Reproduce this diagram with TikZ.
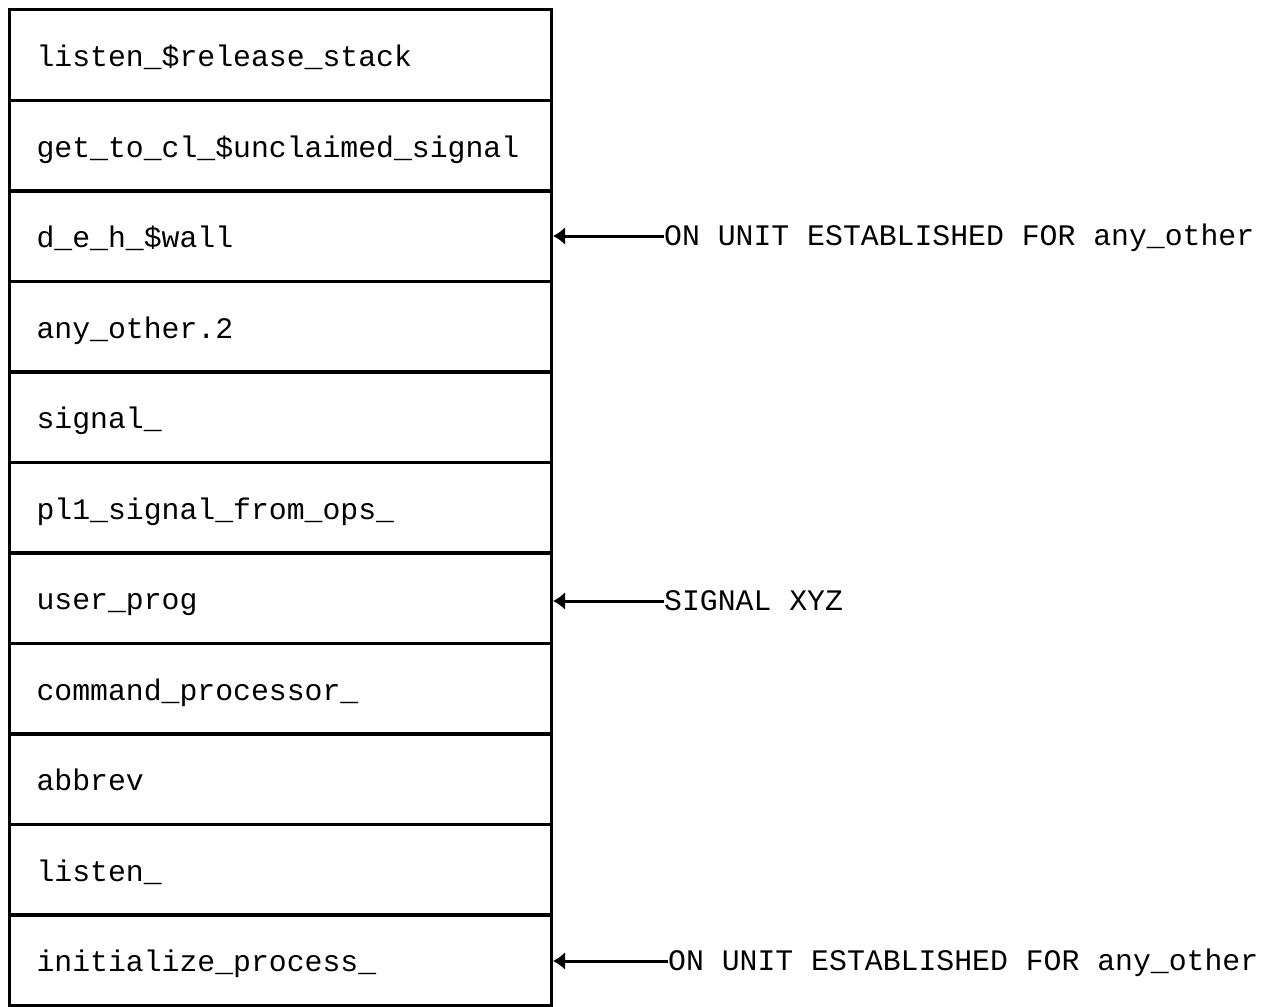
\documentclass[tikz,border=0pt]{standalone}
\usepackage{fontspec}
\newfontfamily\typewr{Liberation Mono}
\usetikzlibrary{arrows.meta}
\begin{document}
\begin{tikzpicture}[x=1pt,y=-1pt,
  rowbox/.style={draw=black,line width=3pt,rectangle,minimum width=542pt,minimum height=91pt,
     text width=488pt,align=left,inner xsep=27pt,inner ysep=0pt,text height=28pt,text depth=5pt,
     font=\typewr\fontsize{29.8}{34}\selectfont,anchor=north west},
  note/.style={anchor=base west,inner sep=0pt,font=\typewr\fontsize{29.8}{34}\selectfont},
  pointer/.style={line width=3pt,-{Latex[length=12pt,width=18pt]}}]
\useasboundingbox[fill=white] (0,0) rectangle (1278,1007);
\node[rowbox] (r1) at (8,8) {listen\_\$release\_stack};
\node[rowbox] (r2) at (8,98.5) {get\_to\_cl\_\$unclaimed\_signal};
\node[rowbox] (r3) at (8,189) {d\_e\_h\_\$wall};
\node[rowbox] (r4) at (8,279.5) {any\_other.2};
\node[rowbox] (r5) at (8,370) {signal\_};
\node[rowbox] (r6) at (8,460.5) {pl1\_signal\_from\_ops\_};
\node[rowbox] (r7) at (8,551) {user\_prog};
\node[rowbox] (r8) at (8,641.5) {command\_processor\_};
\node[rowbox] (r9) at (8,732) {abbrev};
\node[rowbox] (r10) at (8,822.5) {listen\_};
\node[rowbox] (r11) at (8,913) {initialize\_process\_};
\node[note] (n3) at (664,245) {ON UNIT ESTABLISHED FOR any\_other};
\node[note] (n7) at (664,610) {SIGNAL XYZ};
\node[note] (n11) at (668,970) {ON UNIT ESTABLISHED FOR any\_other};
\draw[pointer] ([yshift=9pt]n3.base west) -- ([yshift=9pt]n3.base west -| r3.east);
\draw[pointer] ([yshift=9pt]n7.base west) -- ([yshift=9pt]n7.base west -| r7.east);
\draw[pointer] ([yshift=9pt]n11.base west) -- ([yshift=9pt]n11.base west -| r11.east);
\end{tikzpicture}
\end{document}
